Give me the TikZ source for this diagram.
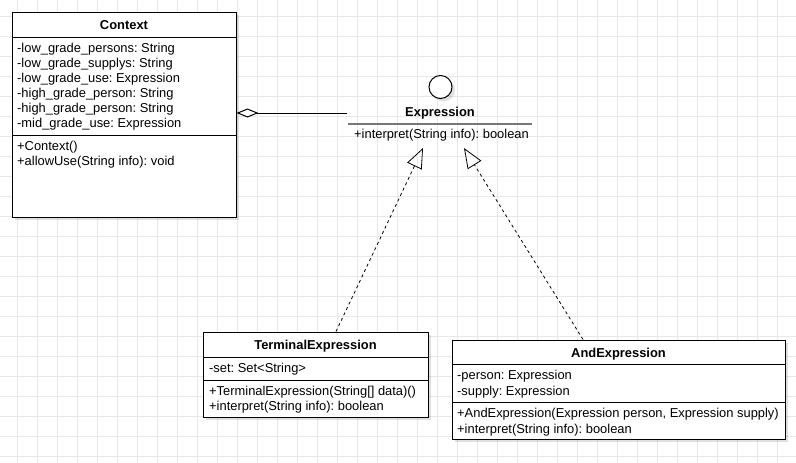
\documentclass[tikz,border=0pt]{standalone}
\usepackage{fontspec}
\setmainfont{Liberation Sans}
\usetikzlibrary{arrows.meta,shadows}
\frenchspacing
\definecolor{gridgray}{RGB}{232,232,232}
\definecolor{rulegray}{RGB}{118,118,118}
\tikzset{
    umltext/.style={inner sep=0pt, text height=9.3pt, text depth=2.7pt, yshift=-1.5pt,
        font=\fontsize{12.9}{15}\selectfont},
    member/.style={umltext, anchor=west},
    classname/.style={umltext, font=\fontsize{12.9}{15}\selectfont\bfseries},
    classbox/.style={draw, line width=1pt, fill=white, inner sep=0pt,
        drop shadow={shadow xshift=3pt, shadow yshift=-3pt, fill=black, opacity=0.12}},
    gridline/.style={gridgray, line width=0.8pt},
    realize/.style={dashed, dash pattern=on 3pt off 3pt, line width=0.8pt,
        -{Triangle[open, length=20pt, width=16pt]}},
    aggregation/.style={line width=1pt, -{Diamond[open, length=22pt, width=9pt]}}
}
\begin{document}
\begin{tikzpicture}[x=1pt, y=-1pt]
                \useasboundingbox (0,0) rectangle (796,463);
                \fill[white] (0,0) rectangle (796,463);
                % background grid
                \foreach \gx in {17,37,...,797}
                    \draw[gridline] (\gx,0) -- (\gx,463);
                \foreach \gy in {16,36,...,456}
                    \draw[gridline] (0,\gy) -- (796,\gy);
                % Context
                \node[classbox, minimum width=224pt, minimum height=205pt] (context) at (124,114.5) {};
                \node[classname] (contextname) at (124,25) {Context};
                \draw[line width=1pt] (12,37) -- (236,37);
                \node[member] (ctxa1) at (17,48) {-low\_grade\_persons: String};
                \node[member] (ctxa2) at (17,63) {-low\_grade\_supplys: String};
                \node[member] (ctxa3) at (17,78) {-low\_grade\_use: Expression};
                \node[member] (ctxa4) at (17,93) {-high\_grade\_person: String};
                \node[member] (ctxa5) at (17,108) {-high\_grade\_person: String};
                \node[member] (ctxa6) at (17,123) {-mid\_grade\_use: Expression};
                \draw[line width=1pt] (12,135) -- (236,135);
                \node[member] (ctxm1) at (17,146) {+Context()};
                \node[member] (ctxm2) at (17,161) {+allowUse(String info): void};
                % Expression (interface)
                \node[circle, draw, line width=1pt, fill=white, minimum size=23pt, inner sep=0pt,
                    drop shadow={shadow xshift=3pt, shadow yshift=-3pt, fill=black, opacity=0.12}] (exprhead) at (440.5,87) {};
                \node[classname] (expr) at (440,112) {Expression};
                \draw[rulegray, line width=2pt] (348,123.5) -- (532,123.5);
                \node[member] (exprm1) at (354,134) {+interpret(String info): boolean};
                \coordinate (aggend) at (347,113);
                \coordinate (termtip) at (423,148);
                \coordinate (andtip) at (464,148);
                % TerminalExpression
                \node[classbox, minimum width=225pt, minimum height=85pt] (term) at (315.5,374.5) {};
                \node[classname] (termname) at (315.5,345) {TerminalExpression};
                \draw[line width=1pt] (203,357) -- (428,357);
                \node[member] (terma1) at (209,368) {-set: Set<String>};
                \draw[line width=1pt] (203,380) -- (428,380);
                \node[member] (termm1) at (209,391) {+TerminalExpression(String[] data)()};
                \node[member] (termm2) at (209,406) {+interpret(String info): boolean};
                % AndExpression
                \node[classbox, minimum width=333pt, minimum height=99pt] (and) at (618.5,389.5) {};
                \node[classname] (andname) at (618.5,353) {AndExpression};
                \draw[line width=1pt] (452,364) -- (785,364);
                \node[member] (anda1) at (457,375) {-person: Expression};
                \node[member] (anda2) at (457,391) {-supply: Expression};
                \draw[line width=1pt] (452,402) -- (785,402);
                \node[member] (andm1) at (457,413) {+AndExpression(Expression person, Expression supply)};
                \node[member] (andm2) at (457,429) {+interpret(String info): boolean};
                % connectors
                \draw[aggregation] (aggend) -- (aggend -| context.east);
                \draw[realize] ([xshift=20.5pt]term.north) -- (termtip);
                \draw[realize] ([xshift=-35.5pt]and.north) -- (andtip);
            \end{tikzpicture}
\end{document}
